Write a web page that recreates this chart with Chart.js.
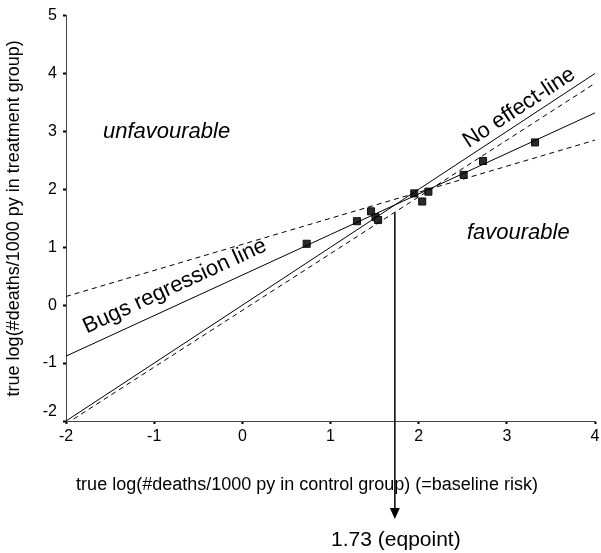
<!DOCTYPE html>
<html>
<head>
<meta charset="utf-8">
<script src="https://cdn.jsdelivr.net/npm/chart.js@4/dist/chart.umd.min.js"></script>
<style>
  html, body { margin: 0; padding: 0; background: #fff; }
  #wrap { width: 601px; height: 553px; }
</style>
</head>
<body>
<div id="wrap"><canvas id="c" width="601" height="553"></canvas></div>
<script>
// ---- data ----
const xTicks = [-2, -1, 0, 1, 2, 3, 4];
const yTicks = [-2, -1, 0, 1, 2, 3, 4, 5];
const noEffectX = [-2, 4];
const noEffectY = [-2, 4];
const regressionX = [-2, 4];
const regressionY = [-0.88, 3.32];
const bandAX = [-2, 4];
const bandAY = [0.15, 2.85];
const bandBX = [-2, 4];
const bandBY = [-2.05, 3.83];
const studyX = [0.73, 1.30, 1.46, 1.51, 1.54, 1.95, 2.04, 2.11, 2.51, 2.73, 3.32];
const studyY = [1.06, 1.45, 1.62, 1.52, 1.47, 1.93, 1.79, 1.96, 2.25, 2.49, 2.81];
const eqpoint = 1.73;
const xTitle = 'true log(#deaths/1000 py in control group) (=baseline risk)';
const yTitle = 'true log(#deaths/1000 py in treatment group)';

const FONT = 'Arial, "Liberation Sans", sans-serif';
const zip = (xs, ys) => xs.map((x, i) => ({ x: x, y: ys[i] }));

const lineDs = (xs, ys, dash) => ({
  type: 'scatter', data: zip(xs, ys), showLine: true,
  borderColor: '#000', borderWidth: 1, borderDash: dash || [],
  pointRadius: 0, fill: false
});

const annot = {
  id: 'annot',
  afterDraw(chart) {
    const ctx = chart.ctx, xs = chart.scales.x, ys = chart.scales.y;
    ctx.save();
    ctx.fillStyle = '#000';
    ctx.strokeStyle = '#000';
    ctx.textAlign = 'center';
    ctx.textBaseline = 'middle';

    ctx.font = 'italic 22px ' + FONT;
    ctx.fillText('unfavourable', xs.getPixelForValue(-0.86), ys.getPixelForValue(3.0));
    ctx.fillText('favourable', xs.getPixelForValue(3.13), ys.getPixelForValue(1.25));

    // rotated label along a line
    const along = (text, lx, ly, t, off) => {
      const x0 = xs.getPixelForValue(lx[0]), y0 = ys.getPixelForValue(ly[0]);
      const x1 = xs.getPixelForValue(lx[1]), y1 = ys.getPixelForValue(ly[1]);
      const ang = Math.atan2(y1 - y0, x1 - x0);
      const px = x0 + (x1 - x0) * t, py = y0 + (y1 - y0) * t;
      ctx.save();
      ctx.translate(px, py);
      ctx.rotate(ang);
      ctx.font = '22px ' + FONT;
      ctx.fillText(text, 0, -off);
      ctx.restore();
    };
    along('No effect-line', noEffectX, noEffectY, 0.87, 13);
    along('Bugs regression line', regressionX, regressionY, 0.22, 18);

    // arrow to eqpoint
    const ax = xs.getPixelForValue(eqpoint);
    const ay0 = ys.getPixelForValue(1.6);
    const tip = 519;
    ctx.lineWidth = 1.5;
    ctx.beginPath();
    ctx.moveTo(ax, ay0);
    ctx.lineTo(ax, tip - 8);
    ctx.stroke();
    ctx.beginPath();
    ctx.moveTo(ax - 5, tip - 11);
    ctx.lineTo(ax + 5, tip - 11);
    ctx.lineTo(ax, tip);
    ctx.closePath();
    ctx.fill();

    ctx.font = '21px ' + FONT;
    ctx.fillText(eqpoint.toFixed(2) + ' (eqpoint)', ax + 1, 540);

    ctx.font = '18px ' + FONT;
    ctx.fillText(xTitle, 307, 485);
    ctx.restore();
  }
};

const noRightPad = (s) => {
  s.paddingRight = 0;
  if (s._margins) s._margins.right = 0;
};

new Chart(document.getElementById('c'), {
  data: {
    datasets: [
      lineDs(noEffectX, noEffectY),
      lineDs(regressionX, regressionY),
      lineDs(bandAX, bandAY, [5, 4]),
      lineDs(bandBX, bandBY, [5, 4]),
      {
        type: 'scatter', data: zip(studyX, studyY),
        pointStyle: 'rect', pointRadius: 5,
        backgroundColor: '#2a2a2a', borderColor: '#111', borderWidth: 1
      }
    ]
  },
  options: {
    responsive: false,
    animation: false,
    layout: { padding: { top: 14, right: 4, left: 0, bottom: 0 } },
    plugins: { legend: { display: false }, tooltip: { enabled: false } },
    scales: {
      x: {
        type: 'linear', position: 'bottom', min: -2, max: 4,
        afterBuildTicks: (s) => { s.ticks = xTicks.map(v => ({ value: v })); },
        afterFit: (s) => { s.height = 132; noRightPad(s); },
        afterUpdate: noRightPad,
        grid: { drawOnChartArea: false, drawTicks: true, tickLength: 3, tickWidth: 2, tickColor: '#000' },
        border: { display: true, color: '#444', width: 1 },
        ticks: { color: '#000', font: { family: FONT, size: 16 }, padding: 3, maxRotation: 0, autoSkip: false }
      },
      y: {
        type: 'linear', position: 'left', min: -2, max: 5,
        afterBuildTicks: (s) => { s.ticks = yTicks.map(v => ({ value: v })); },
        afterFit: (s) => { s.width = 66; },
        grid: { drawOnChartArea: false, drawTicks: true, tickLength: 3, tickWidth: 2, tickColor: '#000' },
        border: { display: true, color: '#444', width: 1 },
        ticks: {
          color: '#000', font: { family: FONT, size: 16 }, padding: 6, autoSkip: false,
          callback: (v) => (v === -2 ? ['-2', ''] : String(v))
        },
        title: { display: true, text: yTitle, color: '#000', font: { family: FONT, size: 18 }, padding: { top: 3, bottom: 0 } }
      }
    }
  },
  plugins: [annot]
});
</script>
</body>
</html>
